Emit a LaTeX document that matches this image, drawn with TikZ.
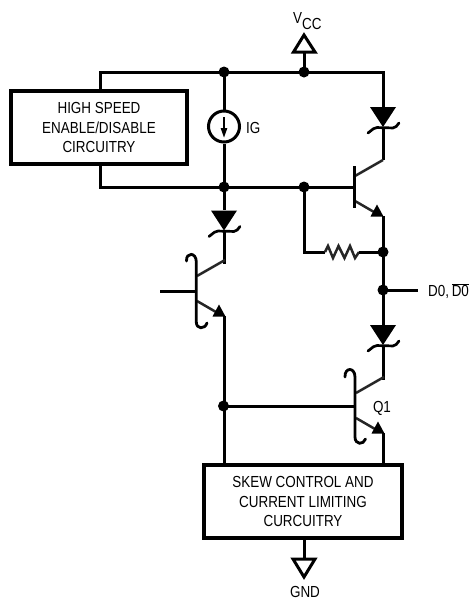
\documentclass[tikz,border=0pt]{standalone}
\usepackage{fontspec}
\setmainfont[FakeStretch=0.84]{Liberation Sans}
\begin{document}
\begin{tikzpicture}[x=1pt,y=-1pt,line join=miter,
  wire/.style={line width=3pt,draw=black},
  thinwire/.style={line width=2.5pt,draw=black!85},
  hookline/.style={line width=2.8pt,line cap=round,draw=black},
  boxnode/.style={draw=black,line width=3.4pt,fill=white,inner sep=0pt,align=center,font=\fontsize{16}{19.6}\selectfont},
  lbl/.style={inner sep=0pt,font=\fontsize{16}{18}\selectfont},
  jdot/.style={circle,fill=black,inner sep=0pt,minimum size=11pt},
  railsym/.style={line width=3pt,draw=black,fill=white,line join=miter},
  pics/zener/.style n args={0}{code={
    \fill (-13,-20) -- (13,-20) -- (0,0) -- cycle;
    \draw[line width=2.7pt,line cap=round,rounded corners=2pt] (-15,6) -- (-8,0.5) -- (12,1) -- (16,-4);
  }},
  pics/npn/.style n args={0}{code={
    \draw[thinwire] (1,-15) -- (29,-31);
    \draw[thinwire] (1,10) -- (20,21);
    \fill (29.5,25.5) -- (16.5,25.5) -- (23,13.5) -- cycle;
  }}
]
\useasboundingbox (0,0) rectangle (472,600);

% Named points
\coordinate (vccstem) at (304,52);
\coordinate (tl) at (100,72);
\coordinate (tv) at (224,72);
\coordinate (tj) at (304,72);
\coordinate (tr) at (383,72);
\coordinate (bl) at (100,187);
\coordinate (bi) at (224,187);
\coordinate (bj) at (304,187);
\coordinate (q0b) at (354,187);
\coordinate (q0c) at (383,160);
\coordinate (q0e) at (383,216);
\coordinate (rj) at (383,252);
\coordinate (rc) at (304,252);
\coordinate (oj) at (383,290);
\coordinate (oe) at (418,290);
\coordinate (d3t) at (383,325);
\coordinate (d3b) at (383,345);
\coordinate (q1c) at (383,380);
\coordinate (q1e) at (383,433);
\coordinate (q1b) at (355,406);
\coordinate (q2c) at (224,264);
\coordinate (q2e) at (224,316);
\coordinate (q2b) at (196,291);
\coordinate (q2in) at (160,291);
\coordinate (bj2) at (223.5,406);
\coordinate (gndtop) at (304,538);
\coordinate (gndsym) at (304,558);

% Blocks
\node[boxnode,minimum width=176pt,minimum height=73pt] (hs) at (99,127.5) {HIGH SPEED\\ENABLE/DISABLE\\CIRCUITRY};
\node[boxnode,minimum width=198pt,minimum height=73pt] (skew) at (303,501.5) {SKEW CONTROL AND\\CURRENT LIMITING\\CURCUITRY};

% Current source
\node[circle,draw=black,line width=3pt,minimum size=31pt,inner sep=0pt] (ig) at (224,126.5) {};
\node[lbl,anchor=west] (iglabel) at (246,127.5) {IG};

% Resistor ends
\coordinate (ra) at (325,252);
\coordinate (rb) at (359,252);

% Wires
\draw[wire] (hs.north -| tl) -- (tl) -- (tr) -- (383,107);
\draw[wire] (hs.south -| bl) -- (bl) -- (q0b);
\draw[wire] (tv) -- (ig.north);
\draw[wire] (ig.south) -- (bi) -- (224,210);
\draw[wire] (224,232) -- (q2c);
\draw[wire] (383,127) -- (q0c);
\draw[wire] (q0e) -- (rj) -- (oj) -- (d3t);
\draw[wire] (oj) -- (oe);
\draw[wire] (bj) -- (rc) -- (ra);
\draw[thinwire] (ra) -- (328,246) -- (333,258) -- (338.5,246) -- (344.5,258) -- (350,246) -- (355,258) -- (rb);
\draw[wire] (rb) -- (rj);
\draw[wire] (d3b) -- (q1c);
\draw[wire] (q2e) -- (q2e |- skew.north);
\draw[wire] (bj2) -- (q1b);
\draw[wire] (q1e) -- (q1e |- skew.north);
\draw[wire] (q2in) -- (q2b);
\draw[wire] (tj) -- (vccstem);
\draw[wire] (gndtop) -- (gndsym);

% Current arrow
\draw[line width=1.5pt] (224,117) -- (224,130);
\fill (220.6,128) -- (227.4,128) -- (224,137.5) -- cycle;

% Zeners
\pic at (383,127) {zener};
\pic at (224,230.5) {zener};
\pic at (383,345) {zener};

% Transistors
\pic at (354,191) {npn};
\pic at (196,291) {npn};
\pic at (355,408) {npn};
\draw[line width=3pt] (354,166) -- (354,208);
% bar plus both hooks of the left transistor
\draw[hookline] (186.5,261) .. controls (186,252) and (196.3,252) .. (196.3,262) -- (196.3,322) .. controls (196.3,329.5) and (205,329.5) .. (207,323);
% bar plus both hooks of Q1
\draw[hookline] (345,377) .. controls (344.5,367) and (355,367) .. (355,377) -- (355,437) .. controls (355,445) and (363.5,445) .. (365.5,439);

% Rails
\draw[railsym] (304,35) -- (315,52) -- (293.5,52) -- cycle;
\draw[railsym] (293,559) -- (315,559) -- (304,577) -- cycle;

% Dots
\foreach \p in {tv,tj,bi,bj,rj,oj,bj2} \node[jdot] at (\p) {};

% Labels
\node[lbl,anchor=base west] (vcc) at (293,23) {V\raisebox{-6pt}{CC}};
\node[lbl,anchor=base] (gnd) at (305,597) {GND};
\node[lbl,anchor=center] (q1) at (382,408) {Q1};
\node[lbl,anchor=west] (d0) at (428,291) {D0,\,$\overline{\mbox{D0}}$};
\end{tikzpicture}
\end{document}
